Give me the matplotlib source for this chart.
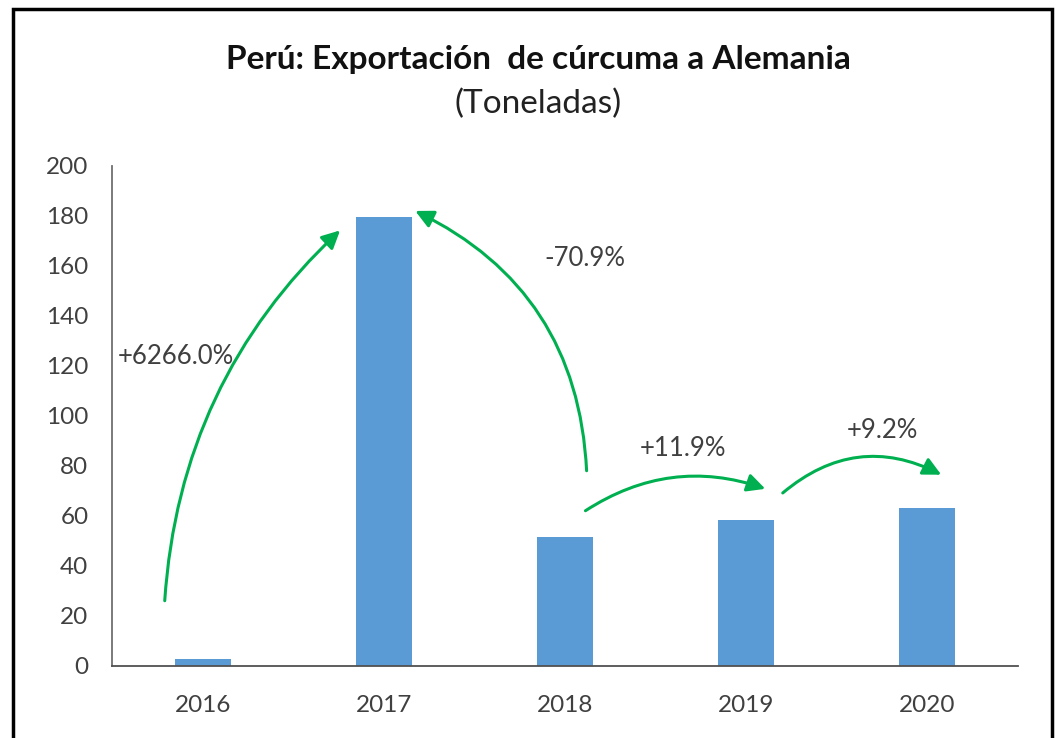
import matplotlib
matplotlib.use("Agg")
import matplotlib.pyplot as plt
from matplotlib.patches import FancyArrowPatch, Rectangle

# data (toneladas)
years = ["2016", "2017", "2018", "2019", "2020"]
tonnes = [2.8, 179.5, 51.5, 58.4, 63.4]

# variation labels and where they sit / where the arrows go
pct_labels = ["+6266.0%", "-70.9%", "+11.9%", "+9.2%"]
label_pos = [(-0.47, 124), (2.11, 163), (2.65, 87), (3.75, 94)]
label_ha = ["left", "center", "center", "center"]
arrow_from = [(-0.21, 25), (2.12, 77), (2.10, 61.5), (3.19, 68.5)]
arrow_to = [(0.77, 175), (1.16, 182.5), (3.12, 70.5), (4.09, 76)]
arrow_rad = [-0.2, 0.30, -0.25, -0.34]

plt.rcParams["font.family"] = ["Lato", "DejaVu Sans"]
text_col = "#404040"
bar_col = "#5B9BD5"
green = "#00B050"

fig = plt.figure(figsize=(10.61, 7.38), dpi=100)
ax = fig.add_axes([112 / 1061, 1 - 666 / 738, 906 / 1061, 500 / 738])

ax.bar(range(len(years)), tonnes, width=0.31, color=bar_col, zorder=2)
ax.set_xlim(-0.5, len(years) - 0.5)
ax.set_ylim(0, 200)
ax.set_yticks(range(0, 201, 20))
ax.set_xticks(range(len(years)))
ax.set_xticklabels(years)
ax.tick_params(axis="both", length=0, labelsize=17.5, colors=text_col)
ax.tick_params(axis="y", pad=17)
ax.tick_params(axis="x", pad=21)
for s in ["top", "right"]:
    ax.spines[s].set_visible(False)
ax.spines["left"].set_color("#707070")
ax.spines["bottom"].set_color("#505050")
ax.spines["left"].set_linewidth(1.3)
ax.spines["bottom"].set_linewidth(1.3)

# arrows + percentages
for p0, p1, r in zip(arrow_from, arrow_to, arrow_rad):
    arr = FancyArrowPatch(p0, p1, connectionstyle=f"arc3,rad={r}",
                          arrowstyle="-|>", mutation_scale=27,
                          color=green, lw=2.2, zorder=3)
    ax.add_patch(arr)
for txt, (x, y), ha in zip(pct_labels, label_pos, label_ha):
    ax.text(x, y, txt, ha=ha, va="center", fontsize=18.5, color=text_col)

fig.text(538 / 1061, 1 - 60 / 738, "Perú: Exportación  de cúrcuma a Alemania",
         ha="center", va="center", fontsize=24, fontweight="bold", color="#111111")
fig.text(538 / 1061, 1 - 104 / 738, "(Toneladas)", ha="center", va="center",
         fontsize=24, color="#222222")

# outer frame
fig.patches.append(Rectangle((13 / 1061, -0.05), 1039 / 1061, 1.05 - 9 / 738,
                             transform=fig.transFigure, fill=False,
                             edgecolor="black", lw=2.5))

fig.savefig("out.png", dpi=100)
